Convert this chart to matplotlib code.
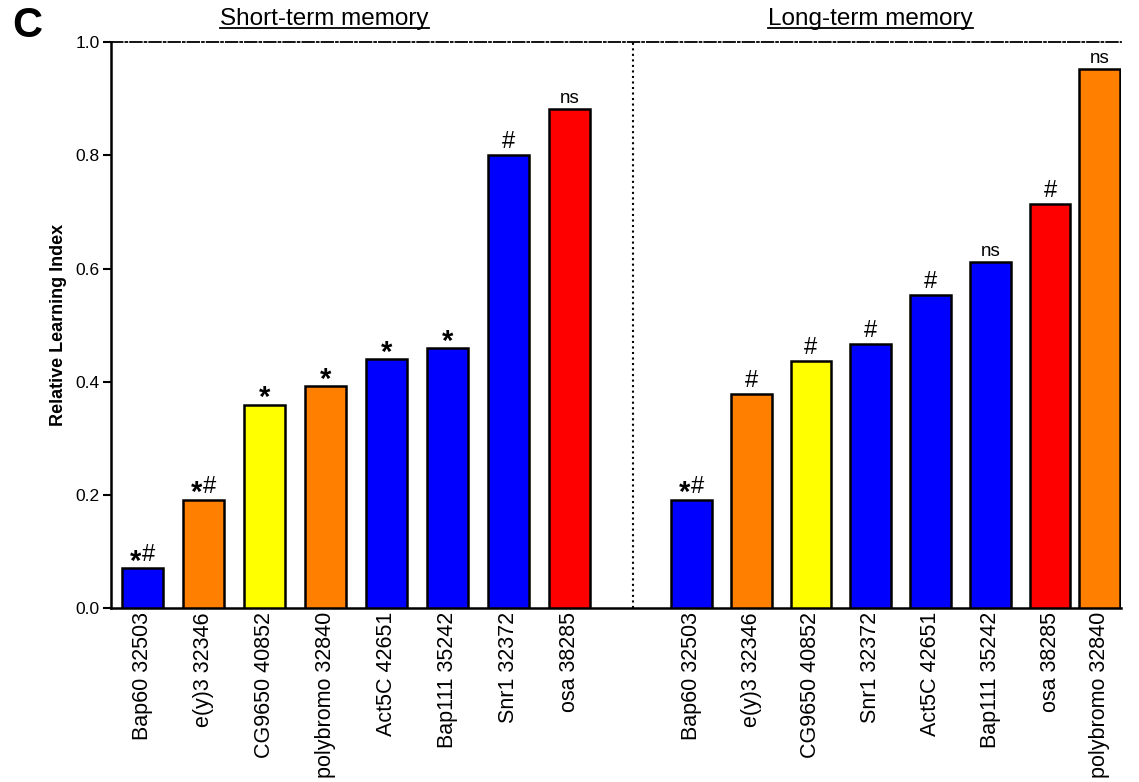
import matplotlib
matplotlib.use("Agg")
import matplotlib.pyplot as plt
from matplotlib.lines import Line2D
import numpy as np

plt.rcParams['font.family'] = ['Liberation Sans', 'DejaVu Sans']

# short-term memory
stm_labels = ["Bap60 32503", "e(y)3 32346", "CG9650 40852", "polybromo 32840",
              "Act5C 42651", "Bap111 35242", "Snr1 32372", "osa 38285"]
stm_values = [0.07, 0.191, 0.359, 0.392, 0.44, 0.459, 0.80, 0.882]
stm_marks = ["*#", "*#", "*", "*", "*", "*", "#", "ns"]
stm_colors = ["#0000FF", "#FF8000", "#FFFF00", "#FF8000",
              "#0000FF", "#0000FF", "#0000FF", "#FF0000"]

# long-term memory
ltm_labels = ["Bap60 32503", "e(y)3 32346", "CG9650 40852", "Snr1 32372",
              "Act5C 42651", "Bap111 35242", "osa 38285", "polybromo 32840"]
ltm_values = [0.191, 0.378, 0.436, 0.466, 0.553, 0.611, 0.714, 0.952]
ltm_marks = ["*#", "#", "#", "#", "#", "ns", "#", "ns"]
ltm_colors = ["#0000FF", "#FF8000", "#FFFF00", "#0000FF",
              "#0000FF", "#0000FF", "#FF0000", "#FF8000"]

fig = plt.figure(figsize=(11.39, 7.82), dpi=100)
ax = fig.add_axes([0.0975, 0.2225, 0.8865, 0.7235])

stm_x = np.arange(len(stm_values))
ltm_x = 9 + 0.98 * np.arange(len(ltm_values))
ltm_x[-1] = 15.69  # last bar squeezed against the axis end


def put_mark(x, v, mark):
    # significance marks above a bar, offsets in points
    if mark == "ns":
        ax.annotate("ns", (x, v), xytext=(0, 4.5), textcoords="offset points",
                    ha="center", va="baseline", fontsize=13.5)
        return
    star_dx, hash_dx = 0, 0
    if mark == "*#":
        star_dx, hash_dx = -5.0, 4.4
    if "*" in mark:
        ax.annotate("*", (x, v), xytext=(star_dx, -1.0), textcoords="offset points",
                    ha="center", va="baseline", fontsize=21, fontweight="bold")
    if "#" in mark:
        ax.annotate("#", (x, v), xytext=(hash_dx, 5.0), textcoords="offset points",
                    ha="center", va="baseline", fontsize=17)


width = 0.67
for xs, vals, cols, marks in [(stm_x, stm_values, stm_colors, stm_marks),
                              (ltm_x, ltm_values, ltm_colors, ltm_marks)]:
    ax.bar(xs, vals, width=width, color=cols, edgecolor="black", linewidth=1.8, zorder=3)
    for x, v, m in zip(xs, vals, marks):
        put_mark(x, v, m)

ax.set_xlim(-0.516, 16.04)
ax.set_ylim(0, 1.0)
ax.set_yticks(np.arange(0, 1.01, 0.2))
ax.set_yticklabels(["%.1f" % t for t in np.arange(0, 1.01, 0.2)], fontsize=12.5)
ax.set_xticks(np.concatenate([stm_x, ltm_x]))
ax.set_xticklabels(stm_labels + ltm_labels, rotation=90, fontsize=15.5)
ax.tick_params(axis="x", length=0, pad=3)
ax.tick_params(axis="y", length=6, width=1.5, direction="out", pad=2)

ax.spines["right"].set_visible(False)
ax.spines["top"].set_linestyle("-.")
ax.spines["top"].set_linewidth(1.3)
ax.spines["left"].set_linewidth(1.8)
ax.spines["bottom"].set_linewidth(1.8)
ax.axvline(8.04, color="black", linestyle=":", linewidth=1.5)

ax.set_ylabel("Relative Learning Index", fontsize=13, fontweight="bold", labelpad=6)

fig.text(0.011, 0.9416, "C", fontsize=30, fontweight="bold", va="bottom")

# underlined section titles
renderer = fig.canvas.get_renderer()
for xc, title in [(0.285, "Short-term memory"), (0.764, "Long-term memory")]:
    t = fig.text(xc, 0.962, title, fontsize=17.5, ha="center", va="bottom")
    bb = t.get_window_extent(renderer).transformed(fig.transFigure.inverted())
    fig.add_artist(Line2D([bb.x0, bb.x1], [bb.y0 + 0.002, bb.y0 + 0.002],
                          color="black", linewidth=1.3, transform=fig.transFigure))

fig.savefig("out.png", dpi=100)
